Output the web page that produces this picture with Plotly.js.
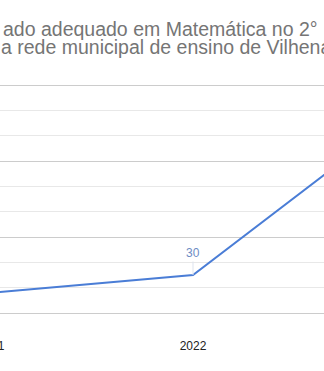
<!DOCTYPE html>
<html><head><meta charset="utf-8">
<script src="https://cdn.plot.ly/plotly-3.0.1.min.js"></script>
<style>html,body{margin:0;padding:0;background:#fff;overflow:hidden;width:324px;height:371px;}#wrap{width:324px;height:371px;overflow:hidden;position:relative;}#c{position:absolute;left:-40px;top:0;width:400px;height:371px;}</style>
</head><body><div id="wrap"><div id="c"></div></div>
<script>
const years = [2021, 2022, 2023];
const values = [16, 30, 152];
const tickLabels = ['2021', '2022', '2023'];
const titleLine1 = 'ado adequado em Matemática no 2°';
const titleLine2 = 'a rede municipal de ensino de Vilhena';

const shift = 40;
const figW = 400;
const pxPerYear = 202;
const yearAtPage = p => 2021 + (p + 9) / pxPerYear;
const x0 = yearAtPage(-shift);
const x1 = yearAtPage(figW - shift);

const trace = {
  x: years, y: values, type: 'scatter', mode: 'lines',
  line: {color: '#4a7dd6', width: 2}, hoverinfo: 'none', cliponaxis: true
};

const valueAnns = years.map((yr, i) => ({
  x: yr, y: values[i], xref: 'x', yref: 'y', text: String(values[i]),
  showarrow: true, arrowhead: 0, arrowwidth: 1, arrowcolor: '#dde3ee', ax: 0, ay: -22,
  font: {family: 'Liberation Sans, Arial', size: 12, color: '#6d8cc4'}
}));

const plotTop = 84, plotBottom = 313, plotH = plotBottom - plotTop;
const py = Y => (plotBottom - Y) / plotH;
const px = P => (P + shift) / figW;

const layout = {
  width: figW, height: 371,
  margin: {l: 0, r: 0, t: plotTop, b: 371 - plotBottom, pad: 0},
  paper_bgcolor: '#fff', plot_bgcolor: '#fff',
  showlegend: false,
  xaxis: {
    range: [x0, x1], tickvals: years, ticktext: tickLabels,
    showgrid: false, zeroline: false, showline: false,
    ticks: '', ticklabelstandoff: 24,
    tickfont: {family: 'Liberation Sans, Arial', size: 12, color: '#222222'}
  },
  yaxis: {
    range: [0, 181], dtick: 60, tick0: 0, showticklabels: false,
    showgrid: true, gridcolor: '#cccccc', gridwidth: 1,
    zeroline: true, zerolinecolor: '#cccccc', zerolinewidth: 1,
    minor: {dtick: 20, showgrid: true, gridcolor: '#e8e8e8', gridwidth: 1},
    showline: false
  },
  annotations: valueAnns.concat([
    {xref: 'paper', yref: 'paper', x: px(160), y: py(29), xanchor: 'center', yanchor: 'middle',
     text: titleLine1, showarrow: false, font: {family: 'Liberation Sans, Arial', size: 19.5, color: '#757575'}},
    {xref: 'paper', yref: 'paper', x: px(-1), y: py(46.5), xanchor: 'left', yanchor: 'middle',
     text: titleLine2, showarrow: false, font: {family: 'Liberation Sans, Arial', size: 19.5, color: '#757575'}}
  ])
};

Plotly.newPlot('c', [trace], layout, {displayModeBar: false, staticPlot: true});
</script></body></html>
